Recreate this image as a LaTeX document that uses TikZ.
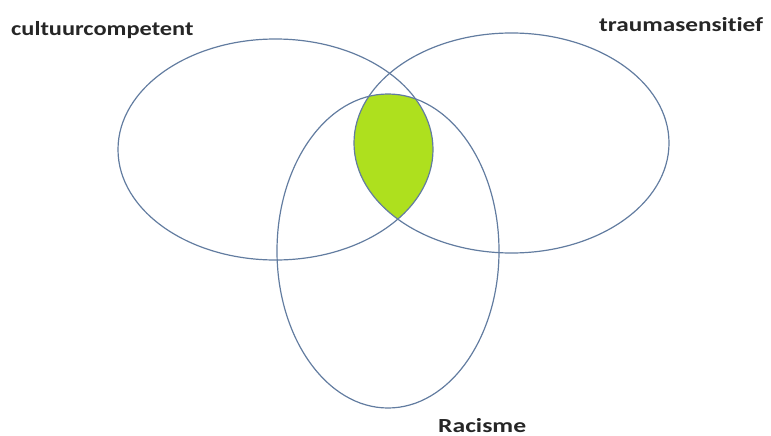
\documentclass[tikz,border=0pt]{standalone}
\usepackage{fontspec}
\setmainfont{Carlito}[Ligatures=NoCommon]
\usetikzlibrary{positioning}
\definecolor{vennline}{RGB}{98,124,160}
\definecolor{venngreen}{RGB}{174,224,30}

\begin{document}
\begin{tikzpicture}[x=1pt, y=-1pt,
        every node/.style={font=\bfseries\fontsize{20}{24}\selectfont},
        set/.style={draw=vennline, line width=1.2pt},
        setlabel/.style={anchor=base west, inner sep=0pt, text depth=0pt, text=black!85},
    ]
    \useasboundingbox (0,0) rectangle (771,436);

    \coordinate (cult) at (275.5,149.5);
    \coordinate (trauma) at (511.5,143);
    \coordinate (racism) at (388,251);

    % overlap of all three sets
    \begin{scope}
        \clip (cult) ellipse [x radius=157.5pt, y radius=110.5pt];
        \clip (trauma) ellipse [x radius=157.5pt, y radius=110pt];
        \fill[venngreen] (racism) ellipse [x radius=111pt, y radius=157pt];
    \end{scope}

    \draw[set] (cult) ellipse [x radius=157.5pt, y radius=110.5pt];
    \draw[set] (trauma) ellipse [x radius=157.5pt, y radius=110pt];
    \draw[set] (racism) ellipse [x radius=111pt, y radius=157pt];

    \node[setlabel] (cultlabel) at (11,36) {\scalebox{1.22}[1]{cultuurcompetent}};
    \node[setlabel] (traumalabel) at (599,32) {\scalebox{1.26}[1]{traumasensitief}};
    \node[setlabel] (racismlabel) at (438,432) {\scalebox{1.28}[1]{Racisme}};

\end{tikzpicture}
\end{document}
